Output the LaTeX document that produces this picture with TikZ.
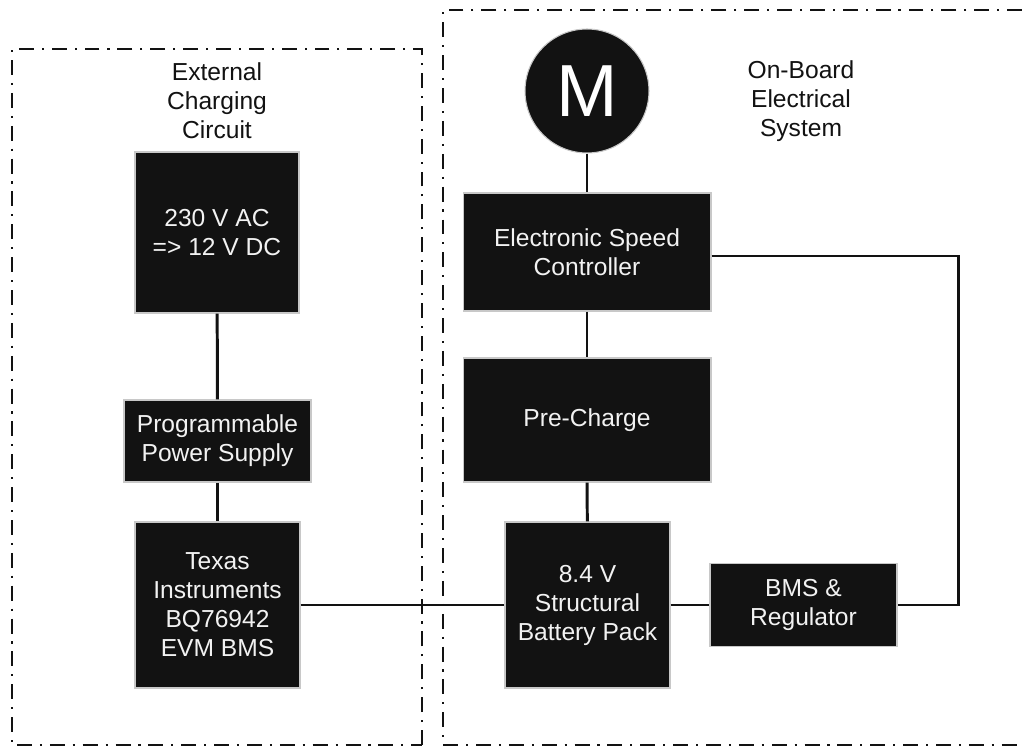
\documentclass[tikz,border=0pt]{standalone}
\usepackage{fontspec}
\setmainfont{Liberation Sans}
\usepackage{tikz}
\usetikzlibrary{positioning, calc}
\definecolor{blockfill}{HTML}{121212}
\definecolor{blockline}{HTML}{C8C8C8}
\definecolor{blocktext}{HTML}{F2F2F2}
\tikzset{
	block/.style={rectangle, draw=blockline, line width=0.6pt, fill=blockfill, text=blocktext, align=center, inner sep=0pt, font=\fontsize{14}{16.5}\selectfont},
	motorcirc/.style={circle, draw=blockline, line width=0.6pt, fill=blockfill, text=white, inner sep=0pt, minimum size=2.48cm, font=\fontsize{42}{42}\selectfont},
	wire/.style={line width=1.7pt, draw=blockfill},
	frame/.style={line width=1.1pt, draw=blockfill, dash pattern=on 8.5pt off 4.5pt on 1.2pt off 4.5pt},
	caption/.style={align=center, text=blockfill, font=\fontsize{14}{16.5}\selectfont}
}
\begin{document}
\begin{tikzpicture}[x=0.02cm, y=-0.02cm]
		\useasboundingbox (0,0) rectangle (1022,749);
		% Frames
		\draw [frame] (422,745) -- (422,49) -- (12,49) -- (12,745) -- (422,745);
		\draw [frame] (1022,10) -- (443,10) -- (443,745) -- (1022,745);
		\node [caption] (extlabel) at (217,101) {External\\Charging\\Circuit};
		\node [caption] (onblabel) at (801,101) {On-Board\\Electrical\\System};
		
		% External charging circuit
		\node [block, minimum width=3.28cm, minimum height=3.22cm] (ac) at (217,232.5) {230 V AC\\=> 12 V DC};
		\node [block, minimum width=3.74cm, minimum height=1.64cm] (pps) at (217.5,441) {Programmable\\Power Supply};
		\node [block, minimum width=3.30cm, minimum height=3.32cm] (ti) at (217.5,605) {Texas\\Instruments\\BQ76942\\EVM BMS};
		
		% On-board system
		\node [motorcirc] (motor) at (587,91) {M};
		\node [block, minimum width=4.96cm, minimum height=2.36cm] (esc) at (587,252) {Electronic Speed\\Controller};
		\node [block, minimum width=4.96cm, minimum height=2.48cm] (pre) at (587,420) {Pre-Charge};
		\node [block, minimum width=3.30cm, minimum height=3.32cm] (bat) at (587.5,605) {8.4 V\\Structural\\Battery Pack};
		\node [block, minimum width=3.74cm, minimum height=1.66cm] (bms) at (803.5,605) {BMS \&\\Regulator};
		\coordinate (loop) at (958,256);
		
		% Wiring
		\draw [wire] (ac) -- (pps);
		\draw [wire] (pps) -- (ti);
		\draw [wire] (ti) -- (bat);
		\draw [wire] (motor) -- (esc);
		\draw [wire] (esc) -- (pre);
		\draw [wire] (pre) -- (bat);
		\draw [wire] (bat) -- (bms);
		\draw [wire] (esc.east |- loop) -- (loop) -- (loop |- bms.east) -- (bms.east);
	\end{tikzpicture}
\end{document}
